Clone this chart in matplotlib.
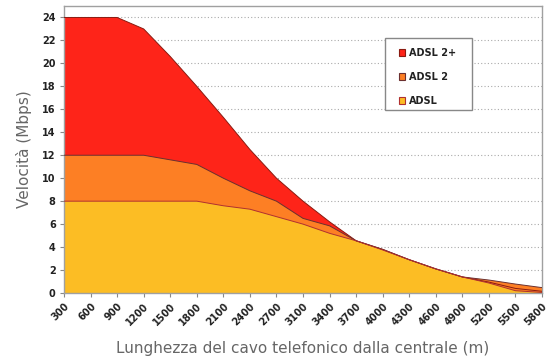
import numpy as np
import matplotlib
matplotlib.use("Agg")
import matplotlib.pyplot as plt
from matplotlib.patches import Patch, Rectangle

# lunghezza cavo (m) - asse categorico
lunghezze = ["300", "600", "900", "1200", "1500", "1800", "2100", "2400", "2700",
             "3100", "3400", "3700", "4000", "4300", "4600", "4900", "5200", "5500", "5800"]

# velocita (Mbps)
adsl2plus = [24, 24, 24, 23.0, 20.6, 18.0, 15.3, 12.5, 10.0, 8.0, 6.2, 4.55,
             3.8, 2.9, 2.1, 1.4, 0.95, 0.4, 0.15]
adsl2 = [12, 12, 12, 12, 11.6, 11.2, 10.0, 8.9, 8.0, 6.5, 5.85, 4.55,
         3.8, 2.9, 2.1, 1.4, 1.13, 0.78, 0.47]
adsl = [8, 8, 8, 8, 8, 8, 7.6, 7.3, 6.65, 6.0, 5.2, 4.55,
        3.75, 2.9, 2.1, 1.4, 0.87, 0.2, 0.05]

serie = [("ADSL 2+", adsl2plus, "#fe2419", "#8a1a10"),
         ("ADSL 2", adsl2, "#fd7f24", "#6a3030"),
         ("ADSL", adsl, "#fcbd24", "#b03030")]

fig = plt.figure(figsize=(5.5, 3.63), dpi=100)
ax = fig.add_axes([0.1164, 0.1928, 0.8691, 0.7907])

x = np.arange(len(lunghezze))
for nome, valori, colore, bordo in serie:
    ax.fill_between(x, 0, valori, facecolor=colore, edgecolor="none", zorder=2)
# bordi sopra le aree
for nome, valori, colore, bordo in serie:
    ax.plot(x, valori, color=bordo, lw=0.7, zorder=3)

ax.set_xlim(0, len(lunghezze) - 1)
ax.set_ylim(0, 25)
ax.set_yticks(np.arange(0, 25, 2))
ax.set_xticks(x)
ax.set_xticklabels(lunghezze, rotation=45, ha="right", rotation_mode="anchor",
                   fontsize=7, fontweight="bold", color="#222222")
for lab in ax.get_yticklabels():
    lab.set_fontsize(7)
    lab.set_fontweight("bold")
    lab.set_color("#222222")

ax.yaxis.grid(True, linestyle=(0, (1, 2)), color="#aaaaaa", lw=0.8, zorder=0)
ax.set_axisbelow(True)
for s in ax.spines.values():
    s.set_color("#a0a0a0")
    s.set_linewidth(1.0)
ax.tick_params(axis="x", length=3, color="#888888", pad=3)
ax.tick_params(axis="y", length=3, color="#888888", pad=3)

ax.set_ylabel("Velocità (Mbps)", fontsize=11, color="#666666", labelpad=7)
ax.set_xlabel("Lunghezza del cavo telefonico dalla centrale (m)", fontsize=11,
              color="#666666", labelpad=10)

# riquadro legenda
ax.add_patch(Rectangle((0.6715, 0.6376), 0.182, 0.251, transform=ax.transAxes,
                       facecolor="white", edgecolor="#888888", lw=1.0, zorder=5))
maniglie = [Patch(facecolor=c, edgecolor=b, lw=0.8, label=n) for n, v, c, b in serie]
leg = ax.legend(handles=maniglie, loc="upper left", bbox_to_anchor=(0.7, 0.855),
                frameon=False, handlelength=0.7, handleheight=0.7, handletextpad=0.4,
                labelspacing=1.45, borderpad=0, borderaxespad=0,
                prop={"weight": "bold", "size": 7})
leg.set_zorder(6)
for t in leg.get_texts():
    t.set_color("#222222")

fig.savefig("out.png", dpi=100, facecolor="white")
